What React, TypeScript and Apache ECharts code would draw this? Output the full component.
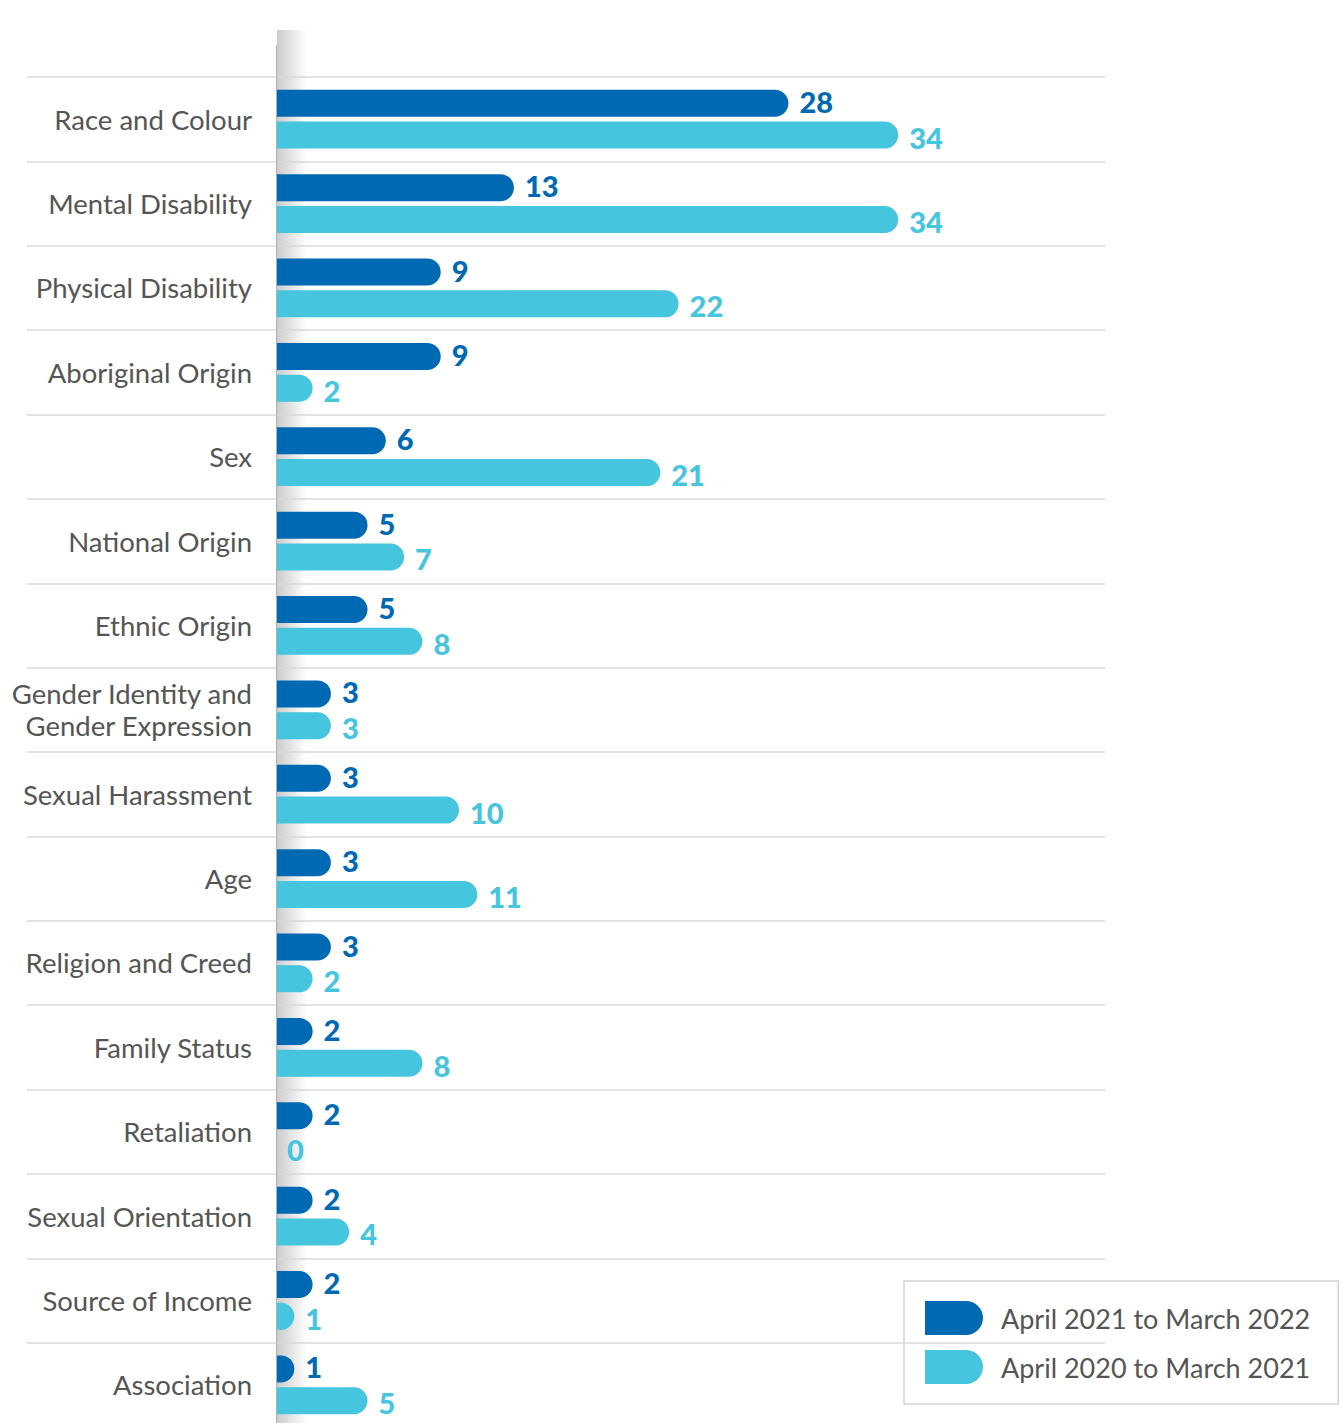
import React, { useEffect, useRef } from "react";
import * as echarts from "echarts";

const categories = [
  "Race and Colour",
  "Mental Disability",
  "Physical Disability",
  "Aboriginal Origin",
  "Sex",
  "National Origin",
  "Ethnic Origin",
  "Gender Identity and\nGender Expression",
  "Sexual Harassment",
  "Age",
  "Religion and Creed",
  "Family Status",
  "Retaliation",
  "Sexual Orientation",
  "Source of Income",
  "Association",
];
const series2022 = [28, 13, 9, 9, 6, 5, 5, 3, 3, 3, 3, 2, 2, 2, 2, 1];
const series2021 = [34, 34, 22, 2, 21, 7, 8, 3, 10, 11, 2, 8, 0, 4, 1, 5];
const seriesNames = ["April 2021 to March 2022", "April 2020 to March 2021"];
const colors = ["#0069b4", "#46c5de"];

export default function App() {
  const ref = useRef<HTMLDivElement>(null);
  useEffect(() => {
    document.body.style.margin = "0";
    const chart = echarts.init(ref.current!, null, { renderer: "svg" });
    const labelStyle = (c: string, dy: number) => ({
      show: true,
      position: "right",
      distance: 11,
      offset: [0, dy],
      color: c,
      fontFamily: "Lato",
      fontWeight: 900,
      fontSize: 29,
      lineHeight: 29,
    });
    chart.setOption({
      animation: false,
      backgroundColor: "#ffffff",
      grid: { left: 276, top: 77, width: 829, height: 1350, containLabel: false },
      xAxis: {
        type: "value",
        min: 0,
        max: 45.3,
        axisLine: { show: false },
        axisTick: { show: false },
        axisLabel: { show: false },
        splitLine: { show: false },
      },
      yAxis: {
        type: "category",
        data: categories,
        inverse: true,
        boundaryGap: true,
        axisLine: { show: false },
        axisTick: {
          show: true,
          inside: false,
          length: 249,
          interval: 0,
          lineStyle: { color: "#d9d9d9", width: 1.5 },
        },
        splitLine: { show: true, interval: 0, lineStyle: { color: "#d9d9d9", width: 1.5 } },
        axisLabel: {
          margin: 24,
          color: "#555555",
          fontFamily: "Lato",
          fontSize: 27.5,
          lineHeight: 32,
          align: "right",
        },
      },
      legend: {
        orient: "vertical",
        left: 904,
        top: 1281,
        itemWidth: 58,
        itemHeight: 34,
        itemGap: 15,
        padding: [20, 28, 20, 21],
        borderColor: "#d4d4d4",
        borderWidth: 1.5,
        icon: "path://M0,0 H41 A17,17 0 0 1 41,34 H0 Z",
        textStyle: {
          color: "#555555",
          fontFamily: "Lato",
          fontSize: 27,
          padding: [0, 0, 0, 13],
        },
        data: seriesNames,
      },
      graphic: [
        {
          type: "rect",
          z: -1,
          silent: true,
          shape: { x: 277, y: 30, width: 30, height: 1410 },
          style: {
            fill: new echarts.graphic.LinearGradient(0, 0, 1, 0, [
              { offset: 0, color: "rgba(0,0,0,0.2)" },
              { offset: 1, color: "rgba(0,0,0,0)" },
            ]),
          },
        },
        {
          type: "line",
          z: 10,
          silent: true,
          shape: { x1: 276.5, y1: 45, x2: 276.5, y2: 1440 },
          style: { stroke: "#b0b0b0", lineWidth: 1 },
        },
      ],
      series: [
        {
          name: seriesNames[0],
          type: "bar",
          data: series2022,
          barWidth: 27,
          barGap: "18%",
          itemStyle: { color: colors[0], borderRadius: [0, 14, 14, 0] },
          label: labelStyle(colors[0], -2),
        },
        {
          name: seriesNames[1],
          type: "bar",
          data: series2021,
          barWidth: 27,
          barGap: "18%",
          itemStyle: { color: colors[1], borderRadius: [0, 14, 14, 0] },
          label: labelStyle(colors[1], 2),
        },
      ],
    });
    return () => chart.dispose();
  }, []);
  return (
    <div style={{ width: 1343, height: 1423, overflow: "hidden" }}>
      <div ref={ref} style={{ width: 1343, height: 1440 }} />
    </div>
  );
}
